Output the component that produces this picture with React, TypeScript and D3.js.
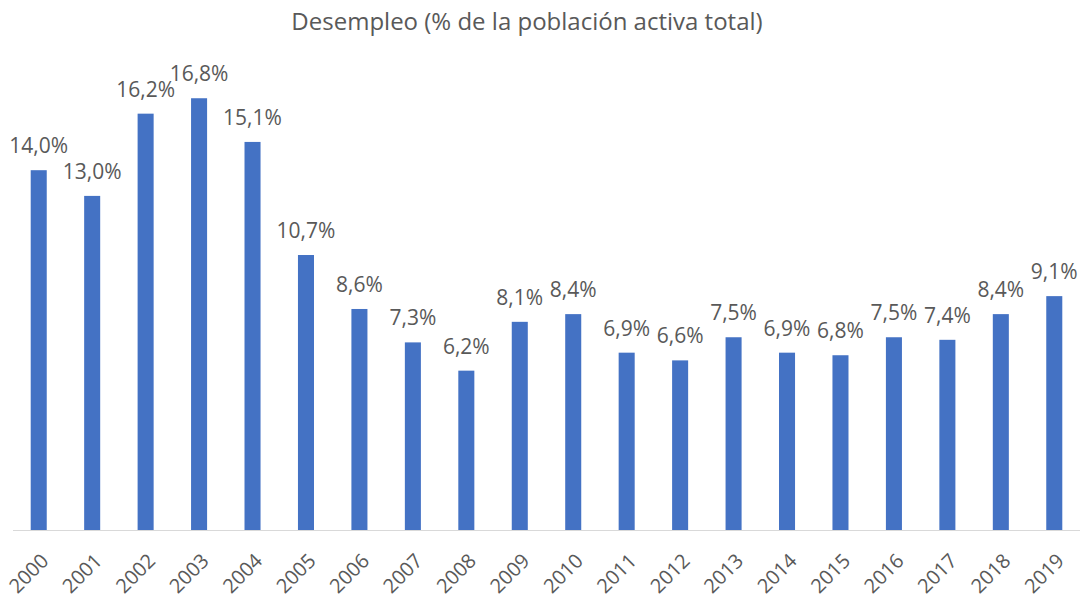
import React, { useEffect, useRef } from 'react';
import * as d3 from 'd3';

const years = ['2000', '2001', '2002', '2003', '2004', '2005', '2006', '2007', '2008', '2009',
  '2010', '2011', '2012', '2013', '2014', '2015', '2016', '2017', '2018', '2019'];
const unemployment = [14.0, 13.0, 16.2, 16.8, 15.1, 10.7, 8.6, 7.3, 6.2, 8.1,
  8.4, 6.9, 6.6, 7.5, 6.9, 6.8, 7.5, 7.4, 8.4, 9.1];
const chartTitle = 'Desempleo (% de la población activa total)';

const App = () => {
  const svgRef = useRef<SVGSVGElement>(null);

  useEffect(() => {
    const svg = d3.select(svgRef.current);
    svg.selectAll('*').remove();

    const width = 1081;
    const height = 601;
    const baseline = 530;
    const font = '"Open Sans", "Liberation Sans", sans-serif';
    const textColor = '#595959';
    const barColor = '#4472C4';

    svg.attr('width', width).attr('height', height);

    const data = years.map((y, i) => ({ year: y, value: unemployment[i] }));

    const x = d3.scaleBand()
      .domain(years)
      .range([12, 1081])
      .paddingInner(0.7)
      .paddingOuter(0.35);

    const y = d3.scaleLinear()
      .domain([0, 18])
      .range([baseline, 67.4]);

    // title
    svg.append('text')
      .attr('x', 527)
      .attr('y', 30)
      .attr('text-anchor', 'middle')
      .attr('font-family', font)
      .attr('font-size', '24px')
      .attr('fill', textColor)
      .text(chartTitle);

    // bars
    svg.append('g')
      .selectAll('rect')
      .data(data)
      .enter()
      .append('rect')
      .attr('x', d => x(d.year)!)
      .attr('y', d => y(d.value))
      .attr('width', x.bandwidth())
      .attr('height', d => baseline - y(d.value))
      .attr('fill', barColor);

    // axis line
    svg.append('line')
      .attr('x1', 13)
      .attr('x2', 1080)
      .attr('y1', baseline + 0.5)
      .attr('y2', baseline + 0.5)
      .attr('stroke', '#d9d9d9')
      .attr('stroke-width', 1);

    // data labels
    svg.append('g')
      .selectAll('text')
      .data(data)
      .enter()
      .append('text')
      .attr('x', d => x(d.year)! + x.bandwidth() / 2)
      .attr('y', d => y(d.value) - 17)
      .attr('text-anchor', 'middle')
      .attr('font-family', font)
      .attr('font-size', '21px')
      .attr('fill', textColor)
      .text(d => d.value.toFixed(1).replace('.', ',') + '%');

    // year labels
    svg.append('g')
      .selectAll('text')
      .data(years)
      .enter()
      .append('text')
      .attr('transform', d => `translate(${x(d)! + x.bandwidth() / 2 + 1}, ${baseline + 22}) rotate(-45)`)
      .attr('text-anchor', 'end')
      .attr('dy', '0.71em')
      .attr('font-family', font)
      .attr('font-size', '20px')
      .attr('fill', textColor)
      .text(d => d);
  }, []);

  return (
    <div style={{ position: 'absolute', left: 0, top: 0, background: '#fff' }}>
      <svg ref={svgRef}></svg>
    </div>
  );
};

export default App;
